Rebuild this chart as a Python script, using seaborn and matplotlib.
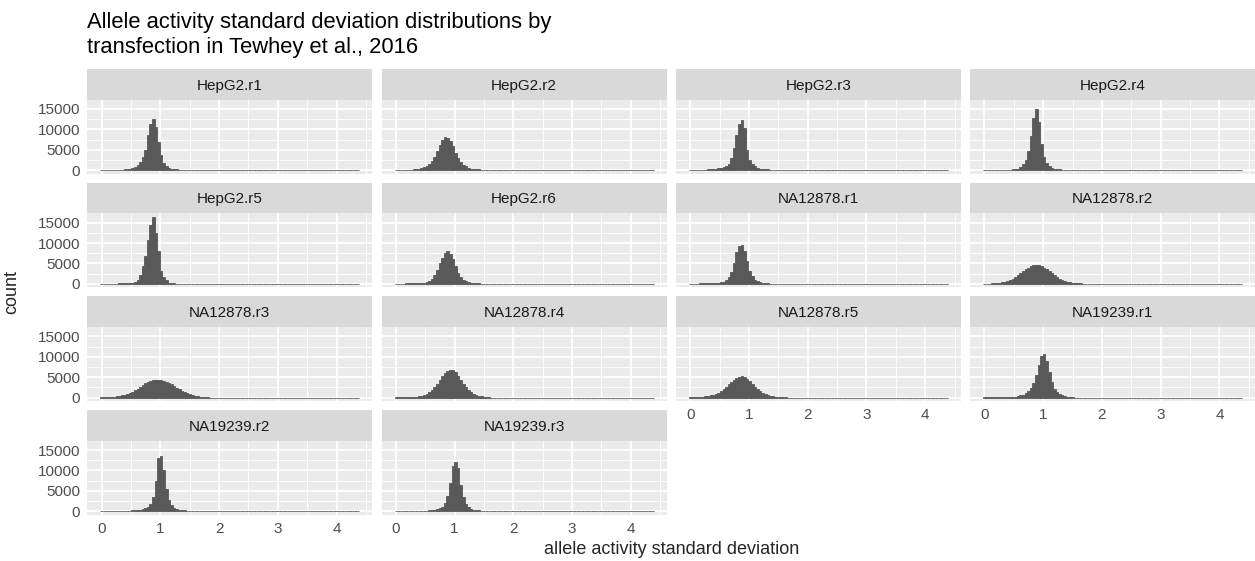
import numpy as np
import pandas as pd
import matplotlib
matplotlib.use("Agg")
import matplotlib.pyplot as plt
import seaborn as sns

# ---- data: histogram counts per transfection (bin k is centred at k * BIN_WIDTH) ----
BIN_WIDTH = 0.0441
N_BINS = 100

panel_names = ["HepG2.r1", "HepG2.r2", "HepG2.r3", "HepG2.r4",
               "HepG2.r5", "HepG2.r6", "NA12878.r1", "NA12878.r2",
               "NA12878.r3", "NA12878.r4", "NA12878.r5", "NA19239.r1",
               "NA19239.r2", "NA19239.r3"]

hepg2_r1 = [60, 40, 60, 80, 80, 100, 90, 120, 140, 200,
            280, 400, 580, 830, 1250, 2100, 3200, 5000, 8500, 11300,
            12600, 10500, 7000, 3800, 1800, 900, 550, 350, 250, 180,
            140, 110, 90, 70]
hepg2_r2 = [30, 40, 60, 80, 100, 120, 150, 200, 250, 350,
            500, 700, 1000, 1500, 2300, 3300, 4800, 6200, 7400, 8100,
            8000, 7200, 5800, 4300, 3000, 2000, 1300, 900, 600, 400,
            300, 250, 200, 150, 120, 100, 80]
hepg2_r3 = [40, 50, 60, 80, 100, 120, 150, 200, 250, 300,
            350, 450, 550, 700, 1000, 1600, 3000, 5400, 8700, 11200,
            12300, 10400, 5000, 2500, 1500, 1000, 600, 400, 300, 250,
            200, 150, 120, 100, 0, 80]
hepg2_r4 = [60, 80, 0, 60, 60, 80, 80, 100, 100, 120,
            150, 200, 300, 400, 830, 1500, 2500, 4600, 8300, 12700,
            14900, 11800, 6500, 3200, 1700, 900, 500, 300, 250, 200,
            150, 100, 80]
hepg2_r5 = [40, 40, 50, 60, 60, 80, 80, 100, 100, 120,
            150, 200, 300, 400, 900, 2150, 4400, 6900, 10800, 14400,
            16500, 12400, 8100, 3200, 1650, 830, 250, 150, 100, 80,
            60]
hepg2_r6 = [40, 50, 60, 80, 100, 120, 150, 250, 250, 250,
            250, 300, 400, 660, 1300, 2150, 3300, 5200, 6300, 7500,
            8100, 7300, 6000, 4400, 2700, 1650, 830, 580, 330, 200,
            170, 150, 100, 80]
na12878_r1 = [40, 50, 60, 80, 100, 120, 150, 180, 200, 220,
              250, 280, 350, 500, 900, 1600, 3000, 5200, 7800, 9300,
              9500, 8000, 5500, 3200, 1800, 1000, 600, 400, 250, 180,
              120, 80]
na12878_r2 = [50, 60, 80, 100, 150, 200, 300, 400, 550, 750,
              1000, 1300, 1700, 2100, 2600, 3100, 3600, 4000, 4300, 4500,
              4550, 4500, 4300, 4000, 3600, 3100, 2600, 2100, 1700, 1300,
              1000, 750, 550, 400, 300, 200, 150, 100]
na12878_r3 = [60, 80, 100, 100, 150, 200, 300, 400, 550, 700,
              900, 1150, 1450, 1800, 2200, 2650, 3050, 3450, 3800, 4050,
              4250, 4350, 4400, 4300, 4150, 3900, 3600, 3250, 2850, 2450,
              2050, 1700, 1350, 1050, 800, 600, 450, 330, 230, 160,
              100, 60]
na12878_r4 = [40, 60, 80, 100, 100, 120, 140, 160, 200, 300,
              450, 650, 950, 1350, 1900, 2600, 3400, 4300, 5200, 6000,
              6600, 6800, 6700, 6200, 5400, 4400, 3400, 2500, 1800, 1250,
              850, 600, 400, 280, 200, 130, 80]
na12878_r5 = [60, 80, 100, 120, 150, 200, 300, 400, 500, 600,
              800, 1100, 1500, 2000, 2600, 3200, 3800, 4400, 4800, 5100,
              5200, 5000, 4600, 4000, 3300, 2600, 2000, 1500, 1100, 800,
              600, 450, 350, 250, 180, 120, 80, 50]
na19239_r1 = [40, 50, 50, 60, 60, 80, 80, 100, 100, 100,
              100, 100, 200, 300, 500, 700, 1000, 1500, 2300, 3600,
              5500, 8000, 10200, 10800, 9000, 6200, 3800, 2200, 1300, 800,
              500, 350, 250, 150, 100]
na19239_r2 = [60, 60, 60, 60, 60, 80, 80, 80, 100, 100,
              120, 150, 200, 200, 300, 400, 500, 700, 1000, 1800,
              3500, 7500, 13000, 13500, 10000, 5500, 2800, 1500, 900, 600,
              400, 300, 200, 150, 100]
na19239_r3 = [60, 60, 60, 60, 60, 80, 80, 80, 100, 100,
              120, 150, 150, 200, 300, 400, 550, 750, 1100, 2000,
              3800, 7000, 11000, 12000, 10500, 6500, 3500, 1800, 1000, 600,
              400, 300, 200, 150, 100]

panel_counts = [hepg2_r1, hepg2_r2, hepg2_r3, hepg2_r4, hepg2_r5, hepg2_r6,
                na12878_r1, na12878_r2, na12878_r3, na12878_r4, na12878_r5,
                na19239_r1, na19239_r2, na19239_r3]

x_ticks = [0, 1, 2, 3, 4]
y_ticks = [0, 5000, 10000, 15000]

title_lines = ["Allele activity standard deviation distributions by",
               "transfection in Tewhey et al., 2016"]
x_title = "allele activity standard deviation"
y_title = "count"

# ---- styling ----
sns.set_style("white")
plt.rcParams["font.family"] = ["Liberation Sans", "DejaVu Sans"]

BAR = "#595959"
PANEL_BG = "#EBEBEB"
STRIP_BG = "#D9D9D9"
TICK_TXT = "#4D4D4D"
TICK_LINE = "#333333"
TICK_FS = 11.0
STRIP_FS = 11.0
AXIS_FS = 13.0
TITLE_FS = 15.8

W, H = 1255, 561
fig = plt.figure(figsize=(W / 100, H / 100), dpi=100)


def rect(x, y, w, h):
    return [x / W, 1 - (y + h) / H, w / W, h / H]


col_left = [87.3, 381.6, 675.9, 970.2]
row_top = [99.5, 213.2, 326.9, 440.6]
panel_w, panel_h, strip_h = 285, 74, 30.5
n_cols = 4

centers = np.arange(N_BINS) * BIN_WIDTH
x_lo = centers[0] - BIN_WIDTH / 2
x_hi = centers[-1] + BIN_WIDTH / 2
x_pad = 0.05 * (x_hi - x_lo)
y_max = max(max(c) for c in panel_counts)

n_panels = len(panel_names)
for i, (name, counts) in enumerate(zip(panel_names, panel_counts)):
    r, c = divmod(i, n_cols)
    left, top = col_left[c], row_top[r]
    ax = fig.add_axes(rect(left, top, panel_w, panel_h))
    full = np.zeros(N_BINS)
    full[:len(counts)] = counts
    df = pd.DataFrame({"sd": centers, "n": full})
    sns.histplot(data=df, x="sd", weights="n", binwidth=BIN_WIDTH,
                 binrange=(x_lo, x_hi), ax=ax, color=BAR, alpha=1,
                 edgecolor=BAR, linewidth=0.6, zorder=3)

    ax.set_facecolor(PANEL_BG)
    for s in ax.spines.values():
        s.set_visible(False)
    ax.set_xlim(x_lo - x_pad, x_hi + x_pad)
    ax.set_ylim(-0.05 * y_max, 1.05 * y_max)
    ax.set_xticks(x_ticks)
    ax.set_yticks(y_ticks)
    ax.set_xticks([0.5, 1.5, 2.5, 3.5, 4.5], minor=True)
    ax.set_yticks([2500, 7500, 12500], minor=True)
    ax.grid(True, which="major", color="white", linewidth=1.3)
    ax.grid(True, which="minor", color="white", linewidth=0.65)
    ax.set_axisbelow(True)
    ax.set_xlabel("")
    ax.set_ylabel("")

    show_y = c == 0
    show_x = (i + n_cols) >= n_panels
    ax.tick_params(axis="y", which="major", length=3.3 if show_y else 0,
                   width=0.9, color=TICK_LINE, labelsize=TICK_FS,
                   labelcolor=TICK_TXT, pad=2, labelleft=show_y)
    ax.tick_params(axis="x", which="major", length=3.3 if show_x else 0,
                   width=0.9, color=TICK_LINE, labelsize=TICK_FS,
                   labelcolor=TICK_TXT, pad=2, labelbottom=show_x)
    ax.tick_params(which="minor", length=0)
    if show_y:
        ax.set_yticklabels([str(v) for v in y_ticks])

    sax = fig.add_axes(rect(left, top - strip_h, panel_w, strip_h))
    sax.set_facecolor(STRIP_BG)
    sax.set_xticks([])
    sax.set_yticks([])
    for s in sax.spines.values():
        s.set_visible(False)
    sax.text(0.5, 0.5, name, ha="center", va="center_baseline",
             fontsize=STRIP_FS, color="#1A1A1A", transform=sax.transAxes)

for line, baseline_y in zip(title_lines, [27.7, 53.3]):
    fig.text(col_left[0] / W, 1 - baseline_y / H, line, ha="left",
             va="baseline", fontsize=TITLE_FS, color="black")
fig.text((col_left[0] + col_left[-1] + panel_w) / 2 / W, 1 - 549 / H, x_title,
         ha="center", va="center", fontsize=AXIS_FS)
fig.text(12 / W, 1 - 292 / H, y_title, ha="center", va="center",
         rotation=90, fontsize=AXIS_FS)

fig.savefig("out.png", dpi=100)
